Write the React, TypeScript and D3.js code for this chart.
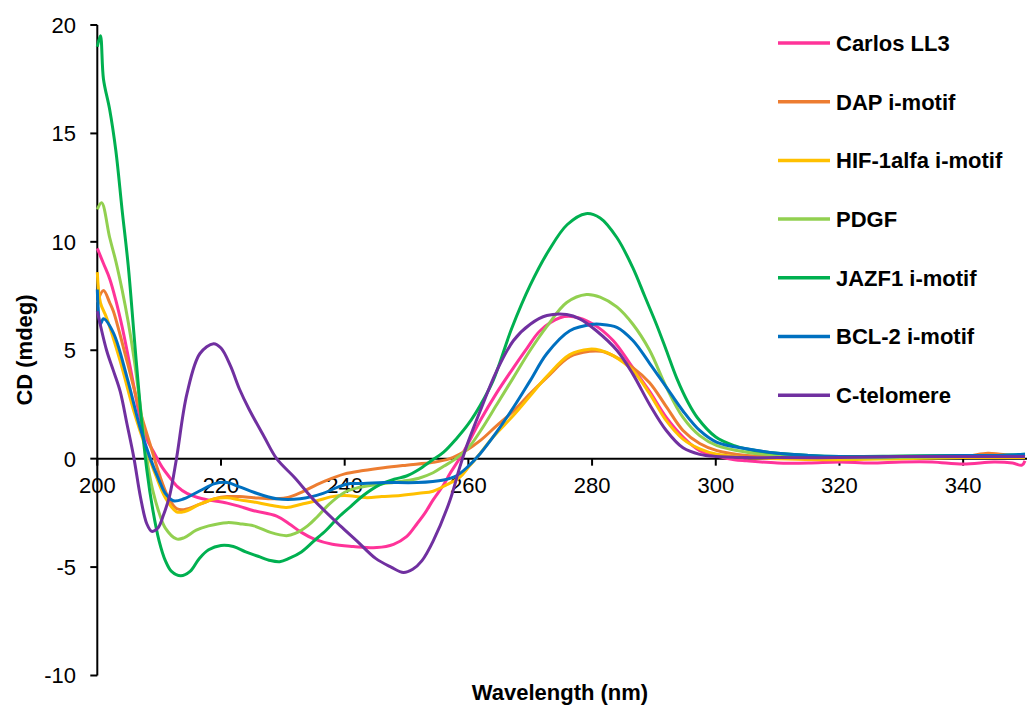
import React from 'react'
import * as d3 from 'd3'

// series, listed as [wavelength nm, CD mdeg]
const seriesNames = ['Carlos LL3', 'DAP i-motif', 'HIF-1alfa i-motif', 'PDGF', 'JAZF1 i-motif', 'BCL-2 i-motif', 'C-telomere']
const seriesColors = ['#FF3399', '#ED7D31', '#FFC000', '#92D050', '#00B050', '#0070C0', '#7030A0']

const carlos: [number, number][] = [[200,9.7],[201,9.0],[202,8.3],[203,7.3],[204,6.1],[205,4.7],[206,3.2],[206.9,1.9],[208,0.9],[209,0.37],[210.5,-0.4],[211.7,-0.86],[213,-1.3],[214.5,-1.6],[217,-1.85],[221,-2.05],[223,-2.2],[225.3,-2.4],[229,-2.65],[231,-3.0],[233,-3.4],[235,-3.7],[238,-3.95],[241.4,-4.05],[245.2,-4.1],[247.9,-3.95],[250,-3.6],[251.7,-3.0],[253,-2.5],[254.3,-1.9],[256,-1.2],[257,-0.7],[259,0.2],[261.9,1.75],[264.5,3.0],[267.3,4.2],[269.5,5.1],[271.6,5.9],[274.8,6.5],[277,6.55],[280.2,6.2],[283.4,5.45],[286.1,4.4],[289.3,3.1],[292,1.9],[294.7,1.0],[297.4,0.37],[300.2,0.12],[303,-0.05],[305,-0.1],[310,-0.2],[315,-0.2],[320,-0.15],[325,-0.2],[330,-0.15],[335,-0.15],[340,-0.25],[345,-0.15],[348,-0.2],[349.5,-0.3],[350,-0.1]]
const dap: [number, number][] = [[200,7.2],[201,7.75],[202,7.2],[202.6,6.8],[204.8,4.5],[206.9,2.2],[208.5,0.7],[210,-0.7],[211.5,-1.8],[212.8,-2.3],[214,-2.35],[216.6,-2.1],[219,-1.85],[221,-1.75],[223,-1.75],[225.3,-1.8],[228,-1.85],[230.6,-1.8],[233,-1.55],[235.5,-1.2],[238,-0.9],[240,-0.7],[243,-0.55],[246.3,-0.42],[250,-0.3],[254.3,-0.17],[257,0.0],[259.5,0.35],[261.9,0.83],[264.5,1.5],[267.3,2.2],[270,3.0],[272.7,3.75],[276.4,4.7],[279.6,4.95],[281.5,4.95],[283.4,4.75],[286.6,4.2],[289.3,3.5],[292,2.4],[294.7,1.3],[297.4,0.7],[300.2,0.37],[305,0.15],[310,0.1],[320,0.05],[330,0.05],[340,0.1],[344,0.25],[346,0.2],[350,0.1]]
const hif: [number, number][] = [[200,8.6],[200.5,7.2],[201.5,6.5],[203.7,4.5],[205.9,2.2],[208,0.37],[209.5,-0.8],[211,-1.8],[212.8,-2.45],[214,-2.45],[216.6,-2.1],[219,-1.85],[221,-1.8],[223,-1.9],[225.3,-2.0],[228,-2.15],[230.6,-2.25],[233,-2.1],[235.5,-1.94],[238,-1.75],[240,-1.7],[243.6,-1.8],[246,-1.75],[249,-1.7],[252,-1.6],[254.3,-1.5],[256.5,-1.2],[258.6,-0.86],[260,-0.4],[261.5,0.1],[264,1.0],[267.3,2.0],[270,2.9],[272.7,3.8],[276.4,4.8],[279.6,5.05],[281.3,5.0],[283.4,4.75],[286.6,4.06],[289.3,3.0],[292,1.75],[294.7,0.9],[297.4,0.45],[300.2,0.2],[305,0.05],[310,0.0],[320,-0.05],[330,0.0],[340,0.05],[350,0.05]]
const pdgf: [number, number][] = [[200,11.5],[200.7,11.8],[202,10.2],[203,9.1],[204,7.8],[205,6.3],[206,4.5],[207,2.3],[208,0.0],[209,-1.5],[210,-2.5],[211,-3.2],[212.8,-3.7],[214,-3.65],[216,-3.3],[218,-3.1],[221,-2.95],[223,-3.0],[225.3,-3.1],[228,-3.4],[230.6,-3.55],[232,-3.45],[234,-3.1],[235.5,-2.7],[237.5,-2.1],[240,-1.55],[242,-1.35],[245,-1.2],[249,-1.05],[252,-0.9],[254.3,-0.65],[256,-0.35],[258,0.0],[260,0.5],[262,1.3],[264.6,2.5],[267.3,3.75],[270,5.0],[272.7,6.1],[275.9,7.2],[279.1,7.57],[281.3,7.45],[284,7.0],[286.6,6.2],[289.3,5.0],[292,3.3],[294.7,1.9],[297.4,1.06],[300.2,0.6],[305,0.3],[310,0.15],[320,0.05],[330,0.05],[340,0.1],[350,0.1]]
const jazf1: [number, number][] = [[200,19.0],[200.5,19.5],[201,17.5],[202,16.1],[203,14.2],[204,11.5],[205,8.9],[206,5.5],[207,2.2],[208,-0.5],[209,-2.4],[210,-3.8],[211,-4.7],[212,-5.2],[213.5,-5.4],[215,-5.2],[216.5,-4.6],[218,-4.2],[220,-4.0],[222,-4.05],[224,-4.3],[226,-4.5],[228,-4.7],[229.5,-4.75],[231,-4.6],[233,-4.3],[235,-3.8],[237,-3.3],[239,-2.7],[241,-2.2],[243,-1.7],[245.7,-1.2],[248,-0.95],[250,-0.8],[252,-0.5],[254,-0.1],[256,0.3],[258,0.9],[260,1.6],[262,2.5],[264,3.6],[267,6.0],[270,8.0],[273,9.6],[276,10.8],[279,11.3],[281.3,11.1],[284,10.2],[286.6,8.8],[288.5,7.5],[290.4,6.2],[292,5.0],[293.7,3.7],[295.5,2.6],[297,1.9],[300,1.0],[303,0.6],[305,0.45],[310,0.25],[315,0.15],[320,0.1],[330,0.12],[340,0.15],[345,0.15],[350,0.2]]
const bcl2: [number, number][] = [[200,7.8],[200.5,6.2],[201,6.45],[202.6,5.8],[204.8,3.75],[206.9,1.45],[208.5,0.06],[210,-1.0],[211,-1.6],[212.3,-1.94],[214,-1.85],[216.6,-1.48],[219,-1.15],[221,-1.1],[223,-1.3],[225.3,-1.55],[229,-1.85],[232.8,-1.85],[236.5,-1.6],[239,-1.3],[240.9,-1.15],[243,-1.15],[246.3,-1.1],[251.7,-1.1],[256,-0.98],[258,-0.8],[259.8,-0.4],[261.9,0.23],[264.5,1.2],[267.3,2.37],[270,3.6],[272.7,4.85],[276.4,5.9],[280.2,6.2],[281.3,6.2],[284,6.06],[286.6,5.45],[289.3,4.4],[292,3.3],[294.7,2.2],[297.4,1.3],[300.2,0.75],[305,0.46],[310,0.25],[315,0.15],[320,0.1],[330,0.1],[340,0.15],[345,0.15],[350,0.2]]
const ctelo: [number, number][] = [[200,6.8],[201.5,5.0],[202.6,4.06],[203.7,3.1],[204.8,1.6],[205.9,0.06],[207,-1.8],[208,-3.0],[208.8,-3.35],[209.8,-3.2],[210.7,-2.6],[211.7,-1.7],[212.8,0.0],[214.5,3.0],[216.6,4.85],[218.8,5.3],[220,5.1],[221.5,4.3],[223,3.2],[224.5,2.3],[227,1.0],[229,0.0],[232,-0.9],[235,-1.9],[239.3,-3.1],[242,-3.8],[245,-4.6],[247.5,-5.0],[249.5,-5.25],[251,-5.1],[252.5,-4.7],[254.3,-3.8],[257,-1.94],[258.6,-0.4],[260,0.8],[261.9,2.2],[264.6,4.06],[267.3,5.45],[270,6.2],[272.7,6.6],[275.9,6.65],[278,6.45],[280.7,5.9],[284,5.0],[286.6,3.9],[289.3,2.5],[292,1.3],[294.7,0.5],[297.4,0.2],[300,0.1],[305,0.05],[310,0.05],[320,0.05],[330,0.1],[340,0.1],[350,0.1]]

const seriesData = [carlos, dap, hif, pdgf, jazf1, bcl2, ctelo]
const xTicks = [200, 220, 240, 260, 280, 300, 320, 340]
const yTicks = [-10, -5, 0, 5, 10, 15, 20]

const W = 1027
const H = 706
const font = '"Liberation Sans", Arial, sans-serif'

export default function App() {
  const x = d3.scaleLinear().domain([200, 350]).range([97.3, 1025])
  const y = d3.scaleLinear().domain([-10, 20]).range([675.5, 25])

  const line = d3.line<[number, number]>()
    .x(d => x(d[0]))
    .y(d => y(d[1]))
    .curve(d3.curveCatmullRom.alpha(0.5))

  const legendTop = 43
  const legendStep = 58.7

  return (
    <svg width={W} height={H} style={{ position: 'absolute', left: 0, top: 0, background: '#fff' }} fontFamily={font}>
      {/* y axis */}
      <line x1={x(200)} x2={x(200)} y1={y(20)} y2={y(-10)} stroke="#000" strokeWidth={2} />
      {yTicks.map(t => (
        <g key={t}>
          <line x1={x(200) - 7} x2={x(200)} y1={y(t)} y2={y(t)} stroke="#000" strokeWidth={2} />
          <text x={76} y={y(t)} dy="0.36em" textAnchor="end" fontSize={22} fill="#000">{t}</text>
        </g>
      ))}
      {/* x axis at zero */}
      <line x1={x(200)} x2={W} y1={y(0)} y2={y(0)} stroke="#000" strokeWidth={2} />
      {xTicks.map(t => (
        <g key={t}>
          <line x1={x(t)} x2={x(t)} y1={y(0)} y2={y(0) + 7} stroke="#000" strokeWidth={2} />
          <text x={x(t)} y={493} textAnchor="middle" fontSize={22} fill="#000">{t}</text>
        </g>
      ))}

      {/* curves */}
      {seriesData.map((d, i) => (
        <path key={seriesNames[i]} d={line(d) || ''} fill="none" stroke={seriesColors[i]} strokeWidth={3} strokeLinejoin="round" />
      ))}

      {/* titles */}
      <text x={560} y={700} textAnchor="middle" fontSize={22} fontWeight="bold" fill="#000">Wavelength (nm)</text>
      <text transform="translate(32,350) rotate(-90)" textAnchor="middle" fontSize={22} fontWeight="bold" fill="#000">CD (mdeg)</text>

      {/* legend */}
      {seriesNames.map((n, i) => {
        const ly = legendTop + i * legendStep
        return (
          <g key={n}>
            <line x1={778} x2={830} y1={ly} y2={ly} stroke={seriesColors[i]} strokeWidth={3.5} />
            <text x={836} y={ly} dy="0.36em" fontSize={22} fontWeight="bold" fill="#000">{n}</text>
          </g>
        )
      })}
    </svg>
  )
}
